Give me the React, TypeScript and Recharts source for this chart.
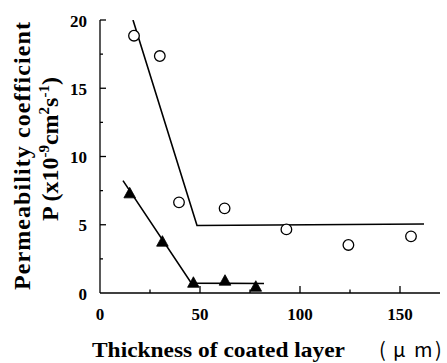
import React from 'react';
import { ComposedChart, Scatter, XAxis, YAxis, Label } from 'recharts';

// Open circles series
const circleX = [17, 29.9, 39.5, 62.3, 93.2, 124.2, 155.5];
const circleY = [18.85, 17.36, 6.64, 6.2, 4.66, 3.52, 4.15];
// Filled triangles series
const triX = [14.85, 31.2, 46.7, 62.5, 77.9];
const triY = [7.3, 3.76, 0.75, 0.9, 0.46];
// Fitted broken lines
const upperFitX = [16.5, 48.5, 162];
const upperFitY = [20, 4.95, 5.05];
const lowerFitX = [11.5, 45.7, 82];
const lowerFitY = [8.23, 0.72, 0.7];
// Ticks
const xTicks = [0, 25, 50, 75, 100, 125, 150];
const yTicks = [0, 2.5, 5, 7.5, 10, 12.5, 15, 17.5, 20];

const zip = (xs: number[], ys: number[]) => xs.map((x, i) => ({ x, y: ys[i] }));
const circles = zip(circleX, circleY);
const triangles = zip(triX, triY);
const upperFit = zip(upperFitX, upperFitY);
const lowerFit = zip(lowerFitX, lowerFitY);

const SERIF = "'Liberation Serif', 'Times New Roman', serif";

const renderXTick = (p: any) => {
  const v = p.payload.value;
  const major = v % 50 === 0;
  return (
    <g key={`xt-${v}`}>
      {v !== 0 && (
        <line x1={p.x} x2={p.x} y1={p.y} y2={p.y - (major ? 7 : 3.5)} stroke="#000" strokeWidth={1.3} />
      )}
      {major && (
        <text x={p.x} y={p.y + 27} textAnchor="middle" style={{ fontFamily: SERIF, fontWeight: 'bold', fontSize: 17 }} fill="#000">
          {v}
        </text>
      )}
    </g>
  );
};

const renderYTick = (p: any) => {
  const v = p.payload.value;
  const major = v % 5 === 0;
  return (
    <g key={`yt-${v}`}>
      {v !== 0 && (
        <line x1={p.x} x2={p.x + (major ? 6 : 3)} y1={p.y} y2={p.y} stroke="#000" strokeWidth={1.3} />
      )}
      {major && (
        <text x={p.x - 13} y={p.y + 6.5} textAnchor="end" style={{ fontFamily: SERIF, fontWeight: 'bold', fontSize: 17 }} fill="#000">
          {v}
        </text>
      )}
    </g>
  );
};

const YLabel = (props: any) => {
  const vb = props.viewBox || { x: 0, y: 20, width: 100, height: 273 };
  const cx1 = vb.x + 30;
  const cy1 = vb.y + 136;
  const cx2 = vb.x + 58;
  const cy2 = vb.y + 129;
  return (
    <g>
      <text
        x={cx1}
        y={cy1}
        transform={`rotate(-90, ${cx1}, ${cy1})`}
        textAnchor="middle"
        style={{ fontFamily: SERIF, fontWeight: 'bold', fontSize: 24 }}
        fill="#000"
        textLength={268}
        lengthAdjust="spacing"
      >
        Permeability  coefficient
      </text>
      <text
        x={cx2}
        y={cy2}
        transform={`rotate(-90, ${cx2}, ${cy2})`}
        textAnchor="middle"
        style={{ fontFamily: SERIF, fontWeight: 'bold', fontSize: 24 }}
        fill="#000"
      >
        P (x10
        <tspan dy={-9} fontSize={15}>-9</tspan>
        <tspan dy={9}>cm</tspan>
        <tspan dy={-9} fontSize={15}>2</tspan>
        <tspan dy={9}>s</tspan>
        <tspan dy={-9} fontSize={15}>-1</tspan>
        <tspan dy={9}>)</tspan>
      </text>
    </g>
  );
};

const XLabel = (props: any) => {
  const vb = props.viewBox || { x: 100, y: 293, width: 340, height: 70 };
  const base = vb.y + 64;
  return (
    <g>
      <text
        x={vb.x - 8}
        y={base}
        style={{ fontFamily: SERIF, fontWeight: 'bold', fontSize: 22 }}
        fill="#000"
        textLength={253}
        lengthAdjust="spacingAndGlyphs"
      >
        Thickness of coated layer
      </text>
      <text y={base} style={{ fontFamily: "'Noto Sans CJK JP', 'Noto Sans', sans-serif", fontSize: 20 }} fill="#000">
        <tspan x={vb.x + 279}>(</tspan>
        <tspan x={vb.x + 293}>μ</tspan>
        <tspan x={vb.x + 314}>m</tspan>
        <tspan x={vb.x + 335}>)</tspan>
      </text>
    </g>
  );
};

const CircleShape = (p: any) => (
  <circle cx={p.cx} cy={p.cy} r={5.3} fill="#fff" stroke="#000" strokeWidth={1.3} />
);

const TriangleShape = (p: any) => (
  <polygon
    points={`${p.cx},${p.cy - 6} ${p.cx - 5.8},${p.cy + 4.5} ${p.cx + 5.8},${p.cy + 4.5}`}
    fill="#000"
    stroke="#000"
    strokeWidth={0.8}
  />
);

const NoShape = () => <g />;

export default function App() {
  return (
    <div style={{ position: 'absolute', left: 0, top: 0, width: 447, height: 363, background: '#fff' }}>
      <ComposedChart width={447} height={363} margin={{ top: 20, right: 7, left: 0, bottom: 0 }}>
        <XAxis
          type="number"
          dataKey="x"
          domain={[0, 170]}
          ticks={xTicks}
          interval={0}
          tickLine={false}
          tickSize={0}
          tickMargin={0}
          height={70}
          axisLine={{ stroke: '#000', strokeWidth: 1.3 }}
          tick={renderXTick}
          allowDataOverflow
        >
          <Label content={<XLabel />} />
        </XAxis>
        <YAxis
          type="number"
          dataKey="y"
          domain={[0, 20]}
          ticks={yTicks}
          interval={0}
          tickLine={false}
          tickSize={0}
          tickMargin={0}
          width={100}
          axisLine={{ stroke: '#000', strokeWidth: 1.3 }}
          tick={renderYTick}
          allowDataOverflow
        >
          <Label content={<YLabel />} />
        </YAxis>
        <Scatter data={upperFit} line={{ stroke: '#000', strokeWidth: 1.6 }} shape={<NoShape />} isAnimationActive={false} />
        <Scatter data={lowerFit} line={{ stroke: '#000', strokeWidth: 1.6 }} shape={<NoShape />} isAnimationActive={false} />
        <Scatter data={circles} shape={<CircleShape />} isAnimationActive={false} />
        <Scatter data={triangles} shape={<TriangleShape />} isAnimationActive={false} />
      </ComposedChart>
    </div>
  );
}
